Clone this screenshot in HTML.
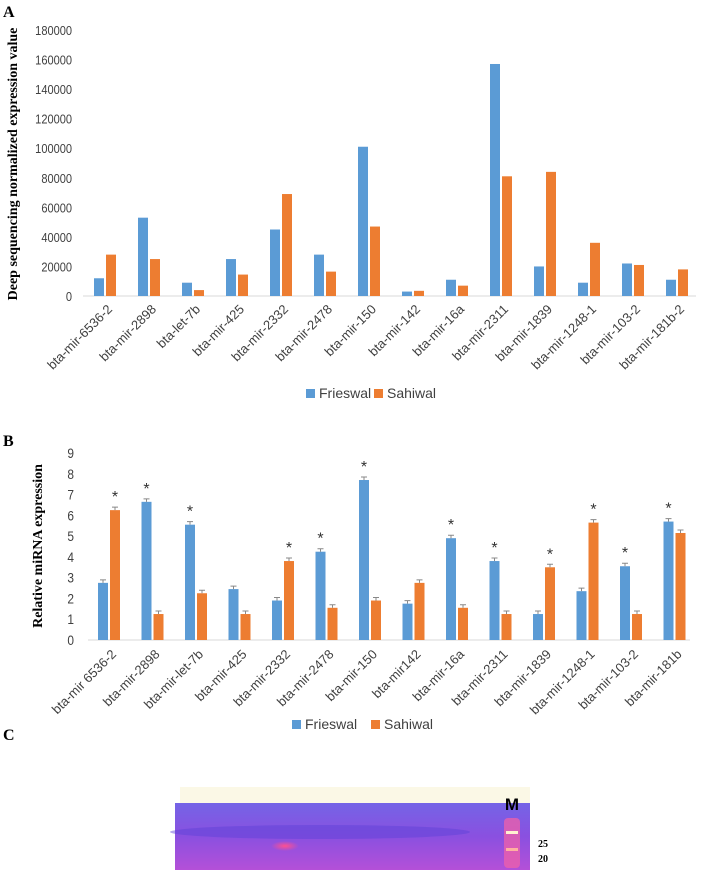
<!DOCTYPE html>
<html><head><meta charset="utf-8"><style>
body{margin:0;background:#fff;width:703px;height:887px;overflow:hidden}
svg{position:absolute;left:0;top:0}
</style></head><body>
<svg id="s" width="703" height="887" viewBox="0 0 703 887" xmlns="http://www.w3.org/2000/svg">
<defs>
<linearGradient id="gel" x1="0" y1="0" x2="0" y2="1">
<stop offset="0" stop-color="#7464e6"/><stop offset="0.5" stop-color="#8a50e0"/><stop offset="1" stop-color="#b450d8"/>
</linearGradient>
<radialGradient id="band" cx="0.5" cy="0.5" r="0.5"><stop offset="0" stop-color="#ff5090"/><stop offset="1" stop-color="#ff5090" stop-opacity="0"/></radialGradient>
</defs>
<text x="3" y="17" font-family="Liberation Serif" font-weight="bold" font-size="16">A</text>
<text x="3" y="446" font-family="Liberation Serif" font-weight="bold" font-size="16">B</text>
<text x="3" y="740" font-family="Liberation Serif" font-weight="bold" font-size="16">C</text>
<text transform="translate(17,164) rotate(-90)" text-anchor="middle" font-family="Liberation Serif" font-weight="bold" font-size="14">Deep sequencing normalized expression value</text>
<text transform="translate(42,546) rotate(-90)" text-anchor="middle" font-family="Liberation Serif" font-weight="bold" font-size="14">Relative miRNA expression</text>
<g id="ga"></g><g id="gb"></g>
<g>
<rect x="180" y="787" width="350" height="16" fill="#fbf8e6"/>
<rect x="175" y="803" width="355" height="67" fill="url(#gel)"/>
<ellipse cx="320" cy="832" rx="150" ry="7" fill="#5a40d8" opacity="0.45"/>
<ellipse cx="285" cy="846" rx="14" ry="5" fill="url(#band)"/>
<rect x="504" y="818" width="16" height="50" rx="4" fill="#f060a8" opacity="0.75"/>
<rect x="506" y="831" width="12" height="3" fill="#fff0d0"/>
<rect x="506" y="848" width="12" height="3" fill="#ffb0a0"/>
<text x="512" y="810" text-anchor="middle" font-family="Liberation Sans" font-weight="bold" font-size="17">M</text>
<text x="538" y="847" font-family="Liberation Serif" font-weight="bold" font-size="10">25</text>
<text x="538" y="862" font-family="Liberation Serif" font-weight="bold" font-size="10">20</text>
</g>
</svg>
<script>
const catsA=["bta-mir-6536-2","bta-mir-2898","bta-let-7b","bta-mir-425","bta-mir-2332","bta-mir-2478","bta-mir-150","bta-mir-142","bta-mir-16a","bta-mir-2311","bta-mir-1839","bta-mir-1248-1","bta-mir-103-2","bta-mir-181b-2"];
const friesA=[12000,53000,9000,25000,45000,28000,101000,3000,11000,157000,20000,9000,22000,11000];
const sahiA=[28000,25000,4000,14500,69000,16500,47000,3500,7000,81000,84000,36000,21000,18000];
const ticksA=[0,20000,40000,60000,80000,100000,120000,140000,160000,180000];
const catsB=["bta-mir 6536-2","bta-mir-2898","bta-mir-let-7b","bta-mir-425","bta-mir-2332","bta-mir-2478","bta-mir-150","bta-mir142","bta-mir-16a","bta-mir-2311","bta-mir-1839","bta-mir-1248-1","bta-mir-103-2","bta-mir-181b"];
const friesB=[2.75,6.65,5.55,2.45,1.9,4.25,7.7,1.75,4.9,3.8,1.25,2.35,3.55,5.7];
const sahiB=[6.25,1.25,2.25,1.25,3.8,1.55,1.9,2.75,1.55,1.25,3.5,5.65,1.25,5.15];
const starB=["S","F","F","","S","F","F","","F","F","S","S","F","F"];
const ticksB=[0,1,2,3,4,5,6,7,8,9];
const NS="http://www.w3.org/2000/svg";
function mk(p,t,a,txt){const e=document.createElementNS(NS,t);for(const k in a)e.setAttribute(k,a[k]);if(txt!==undefined)e.textContent=txt;p.appendChild(e);return e;}
function chart(g,o){
  const y=v=>o.y0-(v-o.vmin)/(o.vmax-o.vmin)*(o.y0-o.y1);
  const x=i=>o.x0+o.first+i*o.step;
  const ax=mk(g,"line",{x1:o.x0,x2:o.x2,y1:o.y0,y2:o.y0,stroke:"#d9d9d9"});
  
  o.ticks.forEach(t=>{const e=mk(g,"text",{transform:`translate(${o.lx},${y(t)+5}) scale(0.85,1)`,"text-anchor":"end","font-family":"Liberation Sans","font-size":o.fs,fill:"#404040"},String(t));
    });
  o.cats.forEach((c,i)=>{
    const cx=x(i);
    const b1=mk(g,"rect",{x:cx-o.bw-1,y:y(o.f[i]),width:o.bw,height:o.y0-y(o.f[i]),fill:"#5b9bd5"});
    
    const b2=mk(g,"rect",{x:cx+1,y:y(o.s[i]),width:o.bw,height:o.y0-y(o.s[i]),fill:"#ed7d31"});
    
    if(o.err){[[cx-o.bw/2-1,o.f[i]],[cx+1+o.bw/2,o.s[i]]].forEach(([ex,v])=>{
      const e=mk(g,"path",{d:`M${ex-3},${y(v)-3}h6M${ex},${y(v)-3}v3`,stroke:"#888",fill:"none","stroke-width":1});
      });}
    if(o.star&&o.star[i]){const v=o.star[i]=="F"?o.f[i]:o.s[i];const sx=o.star[i]=="F"?cx-o.bw/2-1:cx+1+o.bw/2;
      const st=mk(g,"text",{x:sx,y:y(v)-8,"text-anchor":"middle","font-family":"Liberation Sans","font-size":16,fill:"#333"},"*");
      }
    const t=mk(g,"text",{transform:`translate(${cx+o.lo[0]},${o.y0+o.lo[1]}) rotate(-45)`,"text-anchor":"end","font-family":"Liberation Sans","font-size":o.cfs,fill:"#404040"},c);
    
  });
  const L=o.leg;
  const r1=mk(g,"rect",{x:L[0],y:L[2]-9,width:9,height:9,fill:"#5b9bd5"});
  const t1=mk(g,"text",{x:L[0]+13,y:L[2],"font-family":"Liberation Sans","font-size":14,fill:"#404040"},"Frieswal");
  const r2=mk(g,"rect",{x:L[1],y:L[2]-9,width:9,height:9,fill:"#ed7d31"});
  const t2=mk(g,"text",{x:L[1]+13,y:L[2],"font-family":"Liberation Sans","font-size":14,fill:"#404040"},"Sahiwal");
}
chart(document.getElementById("ga"),{cats:catsA,f:friesA,s:sahiA,ticks:ticksA,vmin:0,vmax:180000,y0:296,y1:30,x0:83,x2:696,first:22,step:44,bw:10,lx:72,fs:13,cfs:13,lo:[8,14],leg:[306,374,398],err:false});
chart(document.getElementById("gb"),{cats:catsB,f:friesB,s:sahiB,ticks:ticksB,vmin:0,vmax:9,y0:640,y1:453,x0:88,x2:690,first:21,step:43.5,bw:10,lx:74,fs:14,cfs:13,lo:[8,15],leg:[292,371,729],err:true,star:starB});
</script>
</body></html>
